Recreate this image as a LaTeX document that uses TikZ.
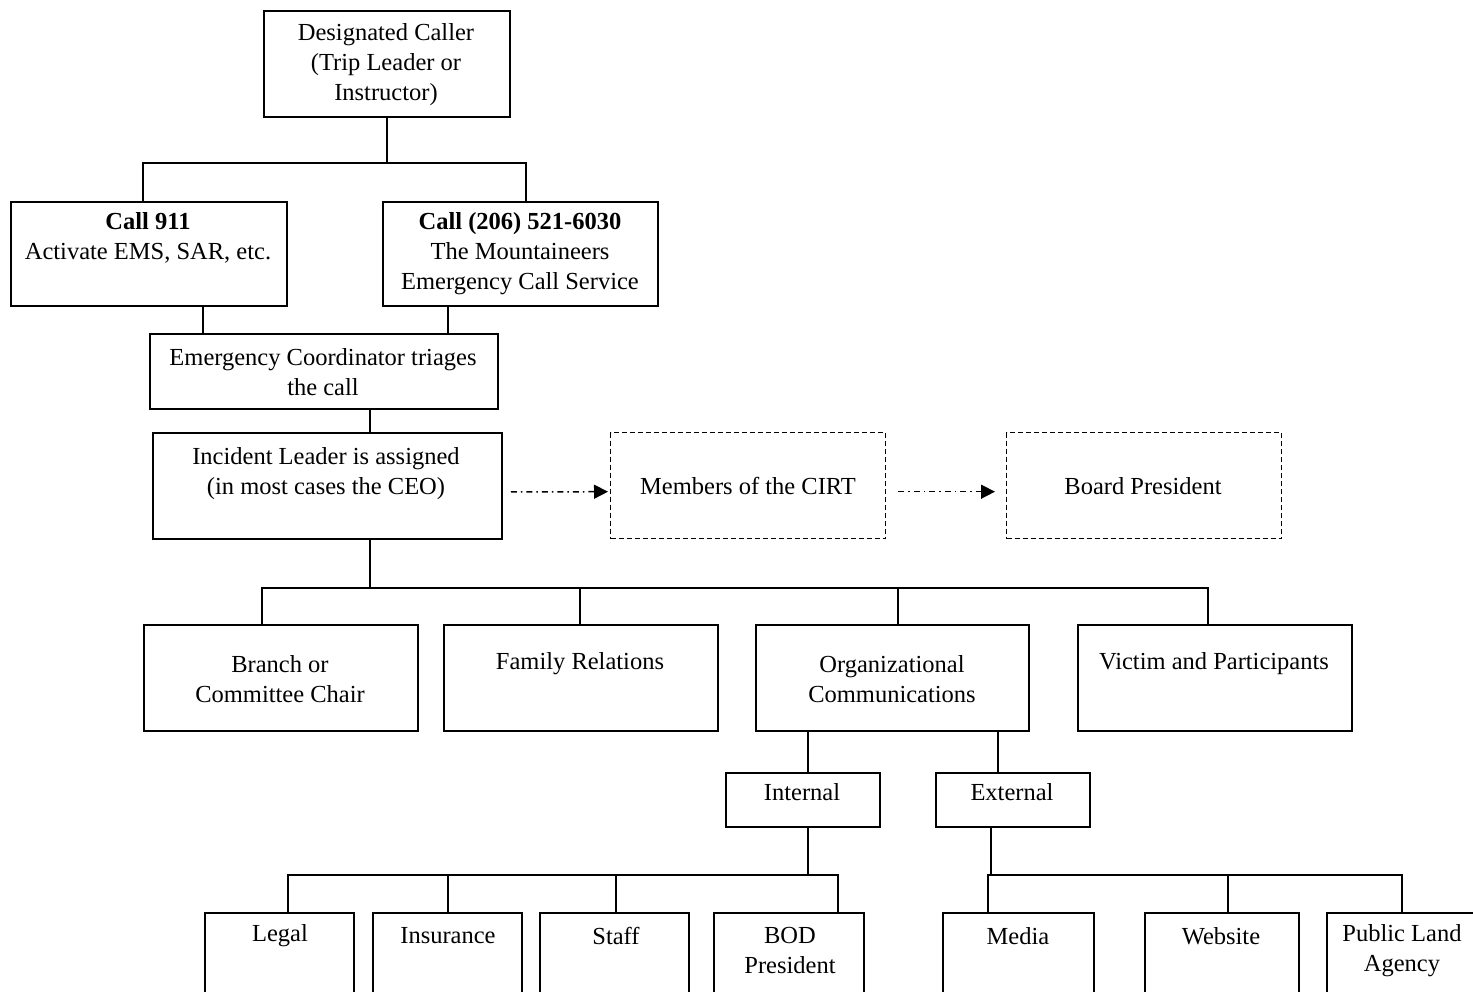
\documentclass[tikz,border=0pt]{standalone}
\usepackage{fontspec}
\setmainfont{Liberation Serif}
\usetikzlibrary{arrows.meta}
\begin{document}
\begin{tikzpicture}[x=1pt,y=-1pt,
  box/.style={draw,line width=1.8pt,inner sep=0pt,anchor=north west},
  dbox/.style={draw,line width=1.4pt,dash pattern=on 5pt off 3pt,inner sep=0pt,anchor=north west},
  txt/.style={align=center,inner sep=0pt,font=\fontsize{24.5}{30}\selectfont},
  conn/.style={line width=1.8pt},
  dd/.style={line width=1.5pt,dash pattern=on 6pt off 4pt on 1.5pt off 4pt,-{Triangle[length=14pt,width=14pt]}}
]
\useasboundingbox (0,0) rectangle (1473,992);
\clip (0,0) rectangle (1473,992);
% boxes
\node[box,minimum width=246pt,minimum height=106pt] (top) at (263,10) {};
\node[box,minimum width=276pt,minimum height=104pt] (c911) at (10,201) {};
\node[box,minimum width=275pt,minimum height=104pt] (c206) at (382,201) {};
\node[box,minimum width=348pt,minimum height=75pt] (ec) at (149,333) {};
\node[box,minimum width=349pt,minimum height=106pt] (il) at (152,432) {};
\node[dbox,minimum width=275pt,minimum height=106pt] (cirt) at (610,432) {};
\node[dbox,minimum width=275pt,minimum height=106pt] (board) at (1006,432) {};
\node[box,minimum width=274pt,minimum height=106pt] (branch) at (143,624) {};
\node[box,minimum width=274pt,minimum height=106pt] (family) at (443,624) {};
\node[box,minimum width=273pt,minimum height=106pt] (org) at (755,624) {};
\node[box,minimum width=274pt,minimum height=106pt] (victim) at (1077,624) {};
\node[box,minimum width=154pt,minimum height=54pt] (internal) at (725,772) {};
\node[box,minimum width=154pt,minimum height=54pt] (external) at (935,772) {};
\node[box,minimum width=149pt,minimum height=100pt] (legal) at (204,912) {};
\node[box,minimum width=149pt,minimum height=100pt] (insurance) at (372,912) {};
\node[box,minimum width=149pt,minimum height=100pt] (staff) at (539,912) {};
\node[box,minimum width=150pt,minimum height=100pt] (bod) at (713,912) {};
\node[box,minimum width=151pt,minimum height=100pt] (media) at (942,912) {};
\node[box,minimum width=154pt,minimum height=100pt] (website) at (1144,912) {};
\node[box,minimum width=154pt,minimum height=100pt] (pla) at (1326,912) {};
% texts
\node[txt] (ttop) at (386,65) {Designated Caller\\(Trip Leader or\\Instructor)};
\node[txt] (t911) at (148,238) {\textbf{Call 911}\\Activate EMS, SAR, etc.};
\node[txt] (t206) at (520,254) {\textbf{Call (206) 521-6030}\\The Mountaineers\\Emergency Call Service};
\node[txt] (tec) at (323,372) {Emergency Coordinator triages\\the call};
\node[txt] (til) at (326,474) {Incident Leader is assigned\\(in most cases the CEO)};
\node[txt] (tcirt) at (748,486) {Members of the CIRT};
\node[txt] (tboard) at (1143,486) {Board President};
\node[txt] (tbranch) at (280,679) {Branch or\\Committee Chair};
\node[txt] (tfamily) at (580,664) {Family Relations};
\node[txt] (torg) at (892,679) {Organizational\\Communications};
\node[txt] (tvictim) at (1214,664) {Victim and Participants};
\node[txt] (tint) at (802,792) {Internal};
\node[txt] (text) at (1012,792) {External};
\node[txt] (tlegal) at (280,936) {Legal};
\node[txt] (tins) at (448,936) {Insurance};
\node[txt] (tstaff) at (616,936) {Staff};
\node[txt] (tbod) at (790,951) {BOD\\President};
\node[txt] (tmedia) at (1018,936) {Media};
\node[txt] (tweb) at (1221,936) {Website};
\node[txt] (tpla) at (1402,951) {Public Land\\Agency};
% helper coordinates
\coordinate (y163) at (0,163);
\coordinate (y588) at (0,588);
\coordinate (y875) at (0,875);
\foreach \n/\v in {x143/143,x526/526,x203/203,x448/448,x370/370,x262/262,x580/580,x898/898,x1208/1208,
  x808/808,x998/998,x991/991,x288/288,x448b/448,x616/616,x838/838,x988/988,x1228/1228,x1402/1402}
  \coordinate (\n) at (\v,0);
% tree connectors
\draw[conn] (top.south) -- (top.south |- y163);
\draw[conn] (c911.north -| x143) -- (x143 |- y163) -- (x526 |- y163) -- (c206.north -| x526);
\draw[conn] (c911.south -| x203) -- (ec.north -| x203);
\draw[conn] (c206.south -| x448) -- (ec.north -| x448);
\draw[conn] (ec.south -| x370) -- (il.north -| x370);
\draw[conn] (il.south -| x370) -- (x370 |- y588);
\draw[conn] (branch.north -| x262) -- (x262 |- y588) -- (x1208 |- y588) -- (victim.north -| x1208);
\draw[conn] (family.north -| x580) -- (x580 |- y588);
\draw[conn] (org.north -| x898) -- (x898 |- y588);
\draw[conn] (org.south -| x808) -- (internal.north -| x808);
\draw[conn] (org.south -| x998) -- (external.north -| x998);
\draw[conn] (internal.south -| x808) -- (x808 |- y875);
\draw[conn] (legal.north -| x288) -- (x288 |- y875) -- (x838 |- y875) -- (bod.north -| x838);
\draw[conn] (insurance.north -| x448b) -- (x448b |- y875);
\draw[conn] (staff.north -| x616) -- (x616 |- y875);
\draw[conn] (external.south -| x991) -- (x991 |- y875);
\draw[conn] (media.north -| x988) -- (x988 |- y875) -- (x1402 |- y875) -- (pla.north -| x1402);
\draw[conn] (website.north -| x1228) -- (x1228 |- y875);
% dash-dot arrows
\draw[dd] ([xshift=8pt,yshift=-6pt]il.east) -- ([xshift=-2pt,yshift=-6pt]cirt.west);
\draw[dd] ([xshift=12pt,yshift=-6pt]cirt.east) -- ([xshift=-11pt,yshift=-6pt]board.west);
\end{tikzpicture}
\end{document}
